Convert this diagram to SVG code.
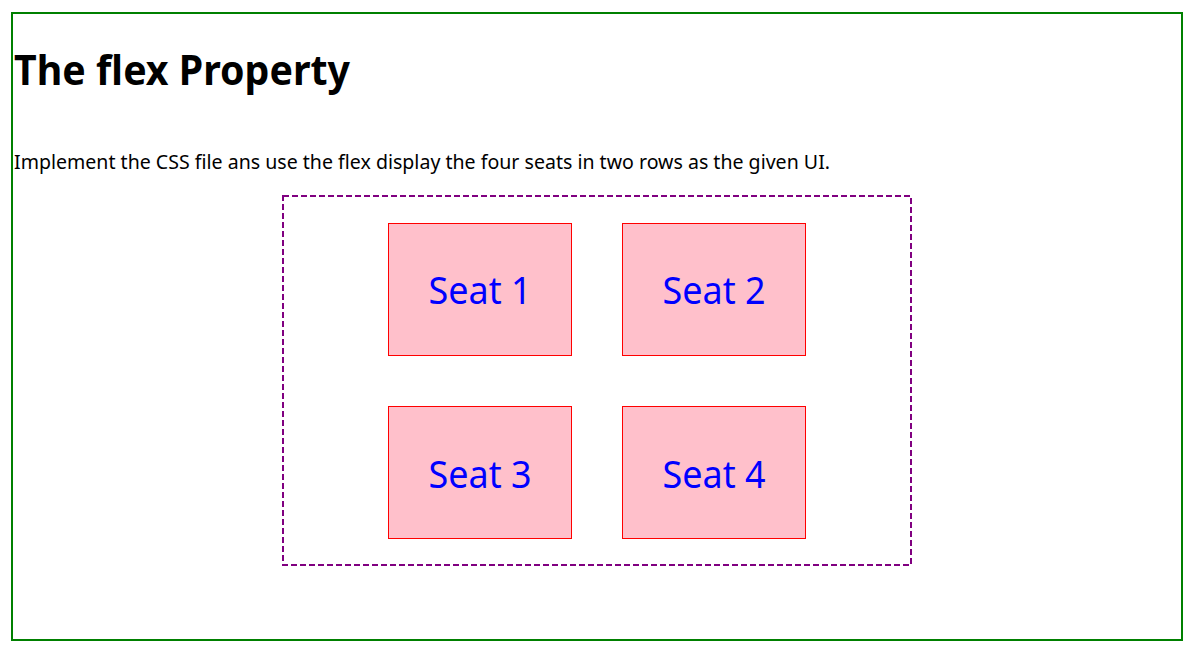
<svg xmlns="http://www.w3.org/2000/svg" width="1193" height="656" viewBox="0 0 1193 656">
<style>
.seat rect{fill:#ffc0cb;stroke:#ff0000;stroke-width:1}
.seat text{font-family:"Noto Sans","Open Sans",sans-serif;font-size:38px;fill:#0000ff;text-anchor:middle}
.txt{font-family:"Noto Sans","Open Sans",sans-serif;fill:#000}
</style>
<rect x="0" y="0" width="1193" height="656" fill="#fff"/>
<rect id="page" x="12" y="13" width="1170" height="627" fill="none" stroke="#008000" stroke-width="2"/>
<text id="title" class="txt" x="14" y="85" font-size="40.5" font-weight="bold" textLength="336" lengthAdjust="spacingAndGlyphs">The flex Property</text>
<text id="desc" class="txt" x="14" y="168.5" font-size="20" textLength="816" lengthAdjust="spacingAndGlyphs">Implement the CSS file ans use the flex display the four seats in two rows as the given UI.</text>
<rect id="container" x="283" y="196" width="628" height="369" fill="none" stroke="#800080" stroke-width="2" stroke-dasharray="6 3"/>
<g id="seat1" class="seat"><rect x="388.5" y="223.5" width="183" height="132"/><text x="480" y="304" textLength="103" lengthAdjust="spacingAndGlyphs">Seat 1</text></g>
<g id="seat2" class="seat"><rect x="622.5" y="223.5" width="183" height="132"/><text x="714" y="304" textLength="103" lengthAdjust="spacingAndGlyphs">Seat 2</text></g>
<g id="seat3" class="seat"><rect x="388.5" y="406.5" width="183" height="132"/><text x="480" y="488" textLength="103" lengthAdjust="spacingAndGlyphs">Seat 3</text></g>
<g id="seat4" class="seat"><rect x="622.5" y="406.5" width="183" height="132"/><text x="714" y="488" textLength="103" lengthAdjust="spacingAndGlyphs">Seat 4</text></g>
<g id="connectors"></g>
</svg>
